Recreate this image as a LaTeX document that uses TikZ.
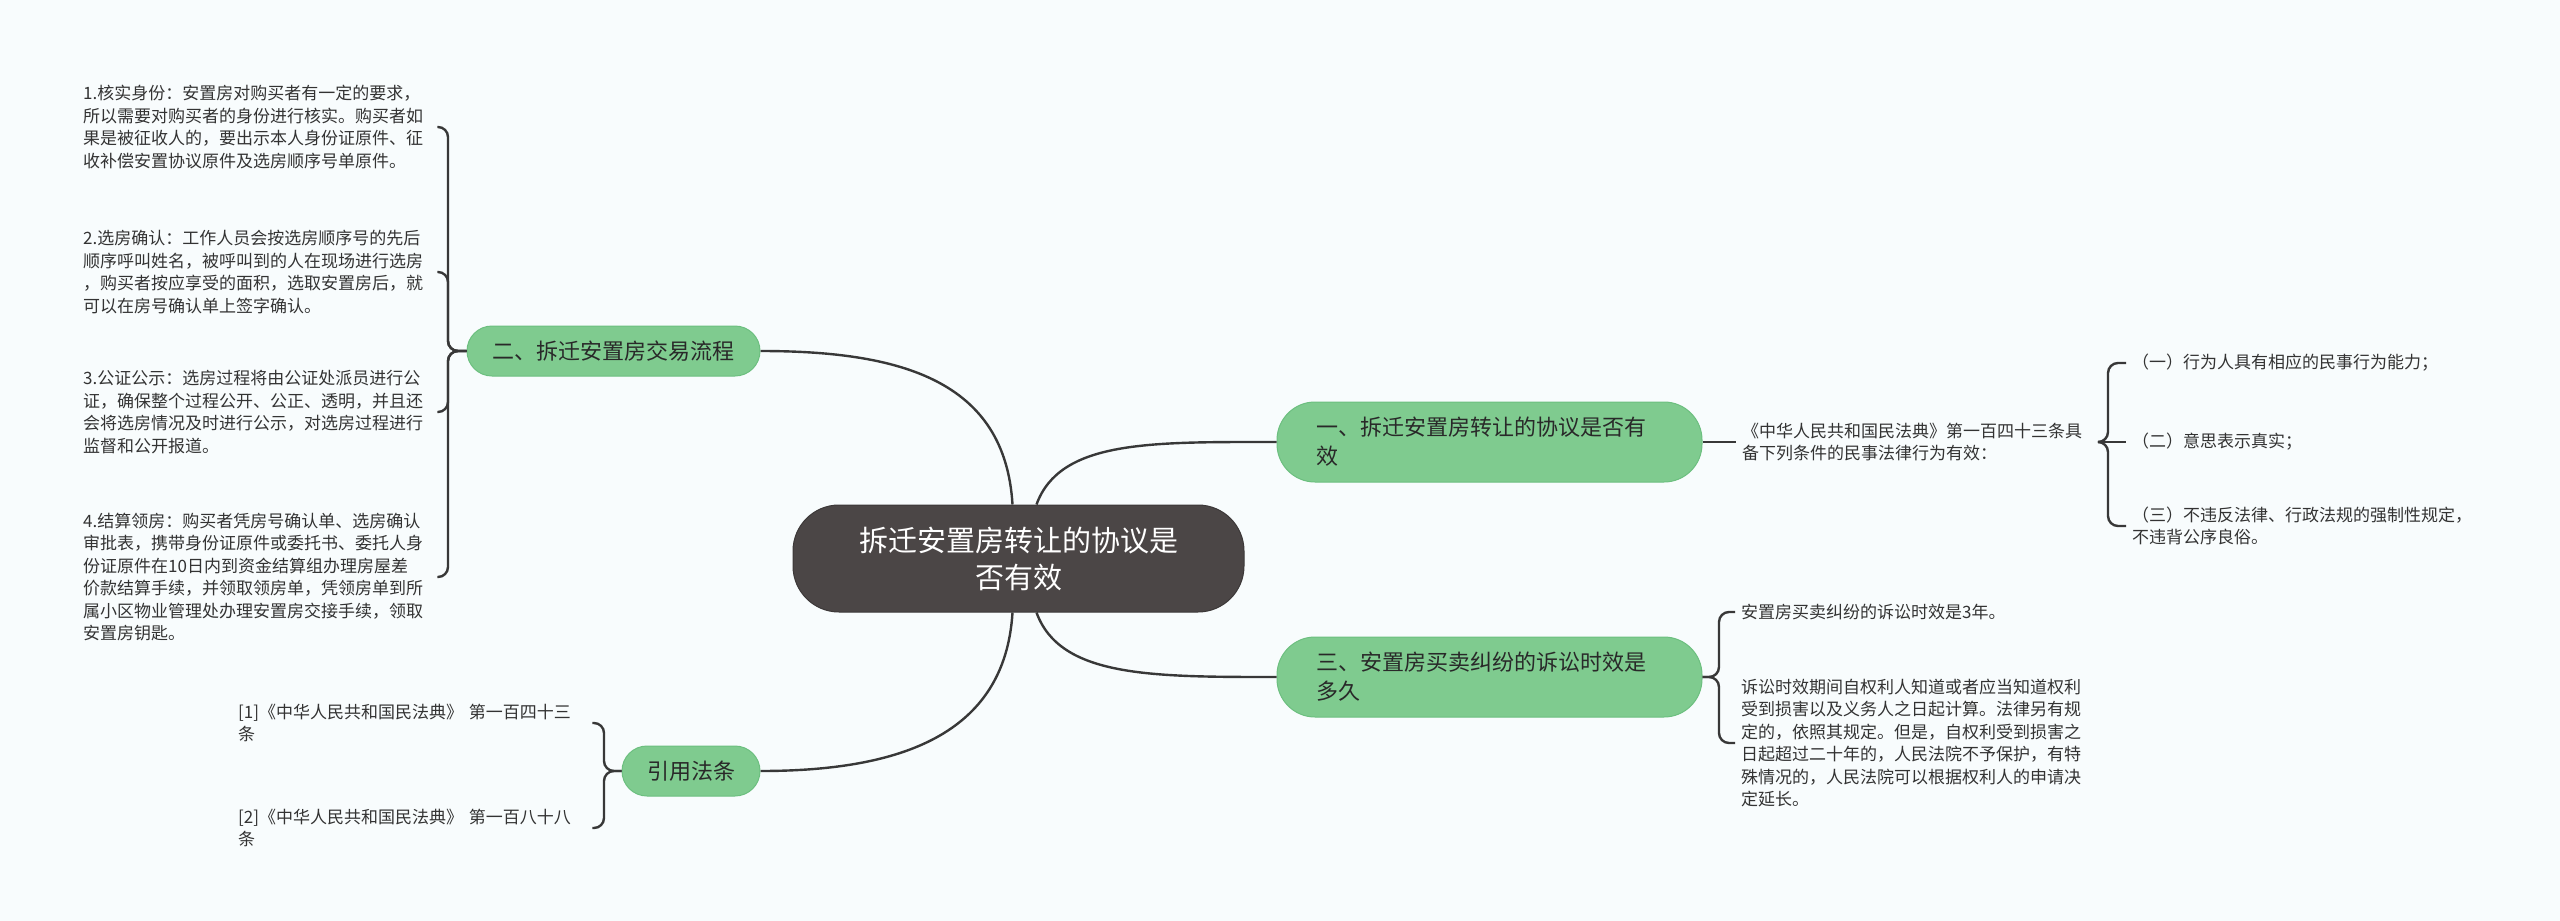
\documentclass[tikz,border=0pt]{standalone}
\usepackage{fontspec}
\newfontfamily\cjk{Noto Sans CJK SC}
\definecolor{bgcol}{HTML}{F8FCFD}
\definecolor{rootcol}{HTML}{4B4646}
\definecolor{greencol}{HTML}{7FCB8F}
\definecolor{greenline}{HTML}{6CBF7F}
\definecolor{linkcol}{HTML}{383838}
\definecolor{textcol}{HTML}{333333}
\begin{document}
\begin{tikzpicture}[x=1pt,y=-1pt]

    \tikzset{
      root/.style={
        draw=rootcol!80!black,
        fill=rootcol,
        text=white,
        line width=1pt,
        rounded corners=46pt,
        minimum width=451pt,
        minimum height=107pt,
        inner sep=0pt,
        align=center,
        font=\cjk\fontsize{29}{37}\selectfont,
      },
      branch/.style={
        draw=greenline,
        fill=greencol,
        text=textcol!80!black,
        line width=1pt,
        rounded corners=25pt,
        minimum height=50pt,
        inner sep=0pt,
        font=\cjk\fontsize{22}{29}\selectfont,
      },
      wide/.style={
        rounded corners=38pt,
        minimum height=80pt,
        text width=347pt,
        inner xsep=39pt,
        align=left,
      },
      leaf/.style={
        text=textcol,
        inner xsep=6pt,
        inner ysep=0pt,
        align=left,
        font=\cjk\fontsize{17}{22.5}\selectfont,
      },
      link/.style={draw=linkcol, line width=2.4pt},
      bracket/.style={link, rounded corners=10pt},
    }
    \fill[bgcol] (0,0) rectangle (2560,921);
    \useasboundingbox (0,0) rectangle (2560,921);

	\node[root] (c) at (1018.5,558.5) {拆迁安置房转让的协议是\\否有效};

	\node[branch,wide] (b1) at (1489.5,442) {一、拆迁安置房转让的协议是否有\\效};
	\node[branch,wide] (b3) at (1489.5,677) {三、安置房买卖纠纷的诉讼时效是\\多久};
	\node[branch,minimum width=293pt] (b2) at (613.5,351) {二、拆迁安置房交易流程};
	\node[branch,minimum width=138pt] (b4) at (691,771) {引用法条};

	\draw[link] ([xshift=18pt]c.north) .. controls (1060,440) and (1150,442) .. (b1.west);
	\draw[link] ([xshift=18pt]c.south) .. controls (1060,677) and (1150,677) .. (b3.west);
	\draw[link] ([xshift=-6pt]c.north) .. controls (1005,380) and (900,351) .. (b2.east);
	\draw[link] ([xshift=-6pt]c.south) .. controls (1005,735) and (900,771) .. (b4.east);

	\node[leaf,text width=348pt,anchor=west] (l1) at (77,127) {1.核实身份：安置房对购买者有一定的要求，\\所以需要对购买者的身份进行核实。购买者如\\果是被征收人的，要出示本人身份证原件、征\\收补偿安置协议原件及选房顺序号单原件。};
	\node[leaf,text width=348pt,anchor=west] (l2) at (77,272) {2.选房确认：工作人员会按选房顺序号的先后\\顺序呼叫姓名，被呼叫到的人在现场进行选房\\，购买者按应享受的面积，选取安置房后，就\\可以在房号确认单上签字确认。};
	\node[leaf,text width=348pt,anchor=west] (l3) at (77,412) {3.公证公示：选房过程将由公证处派员进行公\\证，确保整个过程公开、公正、透明，并且还\\会将选房情况及时进行公示，对选房过程进行\\监督和公开报道。};
	\node[leaf,text width=348pt,anchor=west] (l4) at (77,577) {4.结算领房：购买者凭房号确认单、选房确认\\审批表，携带身份证原件或委托书、委托人身\\份证原件在10日内到资金结算组办理房屋差\\价款结算手续，并领取领房单，凭领房单到所\\属小区物业管理处办理安置房交接手续，领取\\安置房钥匙。};
	\draw[bracket] (b2.west) -- (448,351) |- (l1.east);
	\draw[bracket] (b2.west) -- (448,351) |- (l2.east);
	\draw[bracket] (b2.west) -- (448,351) |- (l3.east);
	\draw[bracket] (b2.west) -- (448,351) |- (l4.east);

	\node[leaf,text width=348pt,anchor=west] (r1) at (232,723) {[1]《中华人民共和国民法典》 第一百四十三\\条};
	\node[leaf,text width=348pt,anchor=west] (r2) at (232,828) {[2]《中华人民共和国民法典》 第一百八十八\\条};
	\draw[bracket] (b4.west) -- (604,771) |- (r1.east);
	\draw[bracket] (b4.west) -- (604,771) |- (r2.east);

	\node[leaf,text width=350pt,anchor=west] (n1) at (1736,442) {《中华人民共和国民法典》第一百四十三条具\\备下列条件的民事法律行为有效：};
	\draw[link] (b1.east) -- (n1.west);
	\node[leaf,anchor=west] (k1) at (2126,363) {（一）行为人具有相应的民事行为能力；};
	\node[leaf,anchor=west] (k2) at (2126,442) {（二）意思表示真实；};
	\node[leaf,anchor=west] (k3) at (2126,526) {（三）不违反法律、行政法规的强制性规定，\\不违背公序良俗。};
	\draw[bracket] (n1.east) -- (2108,442) |- (k1.west);
	\draw[link] (n1.east) -- (k2.west);
	\draw[bracket] (n1.east) -- (2108,442) |- (k3.west);

	\node[leaf,anchor=west] (t1) at (1735,612) {安置房买卖纠纷的诉讼时效是3年。};
	\node[leaf,anchor=west] (t2) at (1735,743) {诉讼时效期间自权利人知道或者应当知道权利\\受到损害以及义务人之日起计算。法律另有规\\定的，依照其规定。但是，自权利受到损害之\\日起超过二十年的，人民法院不予保护，有特\\殊情况的，人民法院可以根据权利人的申请决\\定延长。};
	\draw[bracket] (b3.east) -- (1719,677) |- (t1.west);
	\draw[bracket] (b3.east) -- (1719,677) |- (t2.west);

\end{tikzpicture}
\end{document}
